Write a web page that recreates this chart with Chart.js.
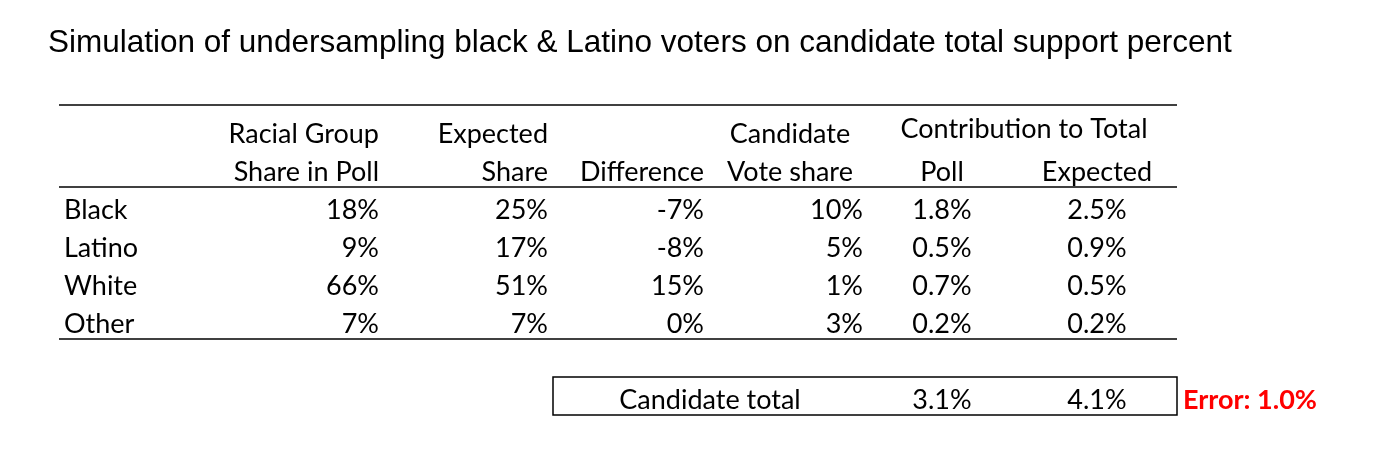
<!DOCTYPE html>
<html>
<head>
<meta charset="utf-8">
<script src="https://cdn.jsdelivr.net/npm/chart.js@4"></script>
<style>
  html, body { margin: 0; padding: 0; background: #fff; }
  #wrap { width: 1391px; height: 464px; }
</style>
</head>
<body>
<div id="wrap"><canvas id="tableChart"></canvas></div>
<script>
// data
var groups = ['Black', 'Latino', 'White', 'Other']
var pollShare = [18, 9, 66, 7]
var expectedShare = [25, 17, 51, 7]
var difference = [-7, -8, 15, 0]
var voteShare = [10, 5, 1, 3]
var contribPoll = [1.8, 0.5, 0.7, 0.2]
var contribExpected = [2.5, 0.9, 0.5, 0.2]
var totalPoll = 3.1
var totalExpected = 4.1
var errorValue = 1.0

var headerTop = ['', 'Racial Group', 'Expected', '', 'Candidate']
var headerBottom = ['', 'Share in Poll', 'Share', 'Difference', 'Vote share', 'Poll', 'Expected']
var rowKeys = ['head1', 'head2'].concat(groups, ['gap', 'total'])

var TITLE = 'Simulation of undersampling black & Latino voters on candidate total support percent'
var BODY_FONT = '27px Lato, "Open Sans", sans-serif'
var BOLD_FONT = 'bold 27px Lato, "Open Sans", sans-serif'

// column anchors on the x scale (right edge for right aligned, centre for centred)
var cols = [
  { x: 64, align: 'left' },
  { x: 379, align: 'right' },
  { x: 548, align: 'right' },
  { x: 704, align: 'right' },
  { x: 863, align: 'right', headAlign: 'center', headX: 790 },
  { x: 942, align: 'center' },
  { x: 1097, align: 'center' }
]

function pct(v, d){ return v.toFixed(d) + '%' }

var tablePlugin = {
  id: 'tablePlugin',
  afterDraw: function(chart){
    var ctx = chart.ctx
    var xs = chart.scales.x
    var ys = chart.scales.y
    var band = ys.getPixelForValue(1) - ys.getPixelForValue(0)
    var px = function(v){ return xs.getPixelForValue(v) }
    var row = function(k){ return ys.getPixelForValue(rowKeys.indexOf(k)) }
    var tOff = 2

    ctx.save()
    ctx.fillStyle = '#000'
    ctx.textBaseline = 'alphabetic'
    ctx.font = '31.5px "Liberation Sans", Arial, sans-serif'
    ctx.textAlign = 'left'
    ctx.fillText(TITLE, 48, 52)

    ctx.font = BODY_FONT
    ctx.textBaseline = 'middle'
    function cell(text, c, y, head){
      var col = cols[c]
      var a = head && col.headAlign ? col.headAlign : col.align
      var x = head && col.headX ? col.headX : col.x
      ctx.textAlign = a
      ctx.fillText(text, px(x), y + tOff)
    }

    headerTop.forEach(function(t, i){ if (t) cell(t, i, row('head1'), true) })
    headerBottom.forEach(function(t, i){ if (t) cell(t, i, row('head2'), true) })
    ctx.textAlign = 'center'
    ctx.fillText('Contribution to Total', px(1024), row('head1') - 5 + tOff)

    groups.forEach(function(g, i){
      var y = row(g)
      cell(g, 0, y)
      cell(pct(pollShare[i], 0), 1, y)
      cell(pct(expectedShare[i], 0), 2, y)
      cell(pct(difference[i], 0), 3, y)
      cell(pct(voteShare[i], 0), 4, y)
      cell(pct(contribPoll[i], 1), 5, y)
      cell(pct(contribExpected[i], 1), 6, y)
    })

    var ty = row('total')
    ctx.textAlign = 'center'
    ctx.fillText('Candidate total', px(710), ty + tOff)
    cell(pct(totalPoll, 1), 5, ty)
    cell(pct(totalExpected, 1), 6, ty)
    ctx.font = BOLD_FONT
    ctx.fillStyle = '#ff0000'
    ctx.textAlign = 'left'
    ctx.fillText('Error: ' + pct(errorValue, 1), px(1183), ty + tOff)

    // rules
    ctx.strokeStyle = '#000'
    ctx.lineWidth = 1.5
    var left = px(59), right = px(1177)
    function hline(y, x0, x1){
      ctx.beginPath(); ctx.moveTo(x0, y); ctx.lineTo(x1, y); ctx.stroke()
    }
    hline(row('head1') - band / 2 - 8, left, right)
    hline(row('head2') + band / 2 - 2, left, right)
    hline(row('Other') + band / 2 - 2, left, right)
    ctx.strokeRect(px(553), ty - band / 2 - 2, right - px(553), band)
    ctx.restore()
  }
}

new Chart(document.getElementById('tableChart'), {
  type: 'scatter',
  data: { datasets: [{ data: [], pointRadius: 0 }] },
  options: {
    responsive: true,
    maintainAspectRatio: false,
    animation: false,
    layout: { padding: { top: 113, bottom: 47, left: 0, right: 0 } },
    plugins: { legend: { display: false }, tooltip: { enabled: false } },
    scales: {
      x: { type: 'linear', min: 0, max: 1391, display: false },
      y: { type: 'category', labels: rowKeys, offset: true, display: false }
    }
  },
  plugins: [tablePlugin]
})
</script>
</body>
</html>
